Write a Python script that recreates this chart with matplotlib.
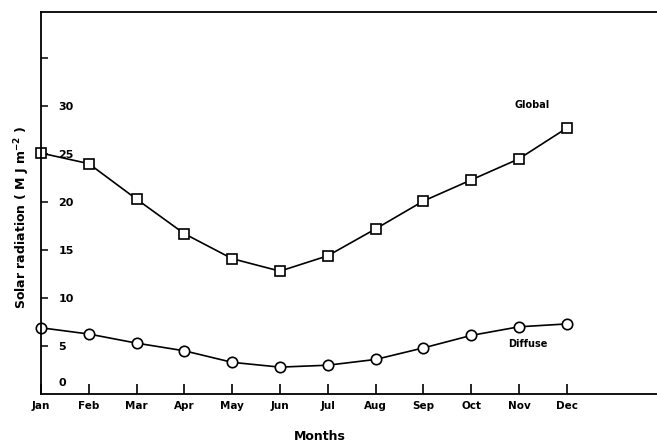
import numpy as np
import matplotlib
matplotlib.use('Agg')
import matplotlib.pyplot as plt

# values (MJ m-2)
months = ['Jan', 'Feb', 'Mar', 'Apr', 'May', 'Jun', 'Jul', 'Aug', 'Sep', 'Oct', 'Nov', 'Dec']
global_rad = [25.1, 24.0, 20.3, 16.7, 14.1, 12.8, 14.4, 17.2, 20.1, 22.3, 24.5, 27.7]
diffuse_rad = [6.9, 6.25, 5.3, 4.5, 3.3, 2.8, 3.0, 3.6, 4.8, 6.1, 7.0, 7.3]
yticks = [5, 10, 15, 20, 25, 30, 35]
ytick_labels = ['5', '10', '15', '20', '25', '30', '']

plt.rcParams['font.family'] = ['DejaVu Sans']
plt.rcParams['font.weight'] = 'bold'

fig = plt.figure(figsize=(6.57, 4.46), dpi=100)
ax = fig.add_axes([41 / 657, 52 / 446, 616 / 657, 382 / 446])

x = np.arange(len(months))
ax.plot(x, global_rad, 'k-', lw=1.2, marker='s', ms=7, mfc='white', mec='k', mew=1.2, clip_on=False)
ax.plot(x, diffuse_rad, 'k-', lw=1.2, marker='o', ms=7.5, mfc='white', mec='k', mew=1.2, clip_on=False)

ax.set_xlim(0, 12.89)
ax.set_ylim(0, 39.8)

ax.spines['right'].set_visible(False)
for s in ['left', 'bottom', 'top']:
    ax.spines[s].set_linewidth(1.3)

ax.set_xticks(x)
ax.set_xticklabels(months, fontsize=7.5, fontweight='bold')
ax.tick_params(axis='x', direction='in', length=7, width=1.2, pad=5)

ax.set_yticks(yticks)
ax.set_yticklabels(ytick_labels, fontsize=8, fontweight='bold')
ax.tick_params(axis='y', direction='in', length=5, width=1.1, pad=-12.5)
for lab in ax.get_yticklabels():
    lab.set_horizontalalignment('left')
ax.text(0.37, 1.1, '0', fontsize=8, fontweight='bold', ha='left', va='center')

ax.text(10.27, 30.1, 'Global', fontsize=7, fontweight='bold', ha='center', va='center')
ax.text(10.19, 5.2, 'Diffuse', fontsize=7, fontweight='bold', ha='center', va='center')

fig.text(22 / 657, 1 - 217 / 446, r'Solar radiation ( M J m$^{\mathbf{-2}}$ )', rotation=90,
         fontsize=9, fontweight='bold', ha='center', va='center')
fig.text(320 / 657, 1 - 437 / 446, 'Months', fontsize=9, fontweight='bold', ha='center', va='center')

plt.savefig('out.png', dpi=100)
